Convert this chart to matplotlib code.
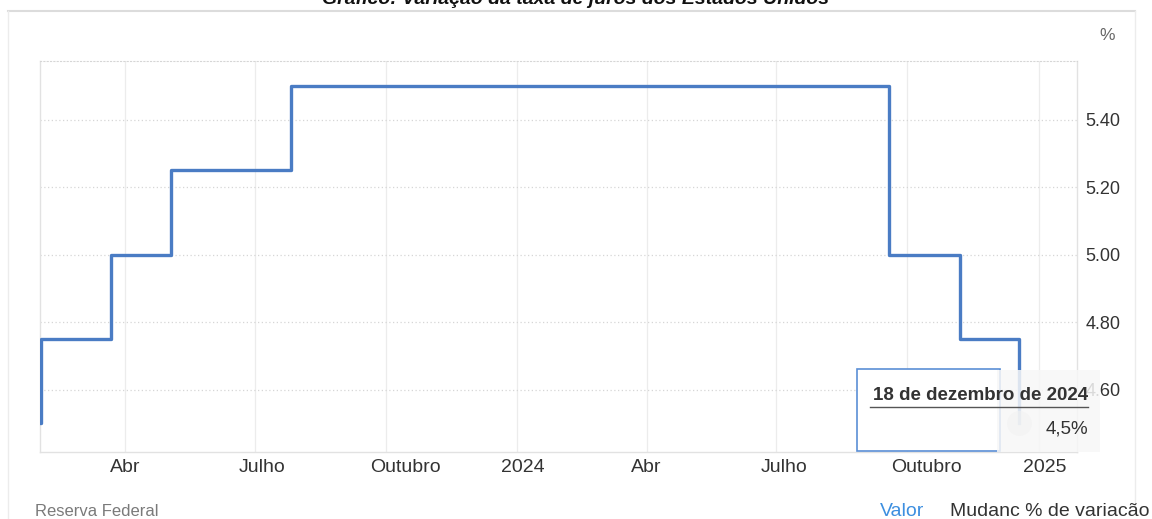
import matplotlib
matplotlib.use("Agg")
import matplotlib.pyplot as plt
import matplotlib.patches as mpatches
import matplotlib.transforms as mtransforms
import pandas as pd

# Fed funds target (upper bound), step changes
dates = pd.to_datetime(['2022-12-14', '2023-02-01', '2023-03-22', '2023-05-03',
                        '2023-07-26', '2024-09-18', '2024-11-07', '2024-12-18'])
rates = [4.50, 4.75, 5.00, 5.25, 5.50, 5.00, 4.75, 4.50]

tick_dates = pd.to_datetime(['2023-04-01', '2023-07-01', '2023-10-01', '2024-01-01',
                             '2024-04-01', '2024-07-01', '2024-10-01', '2025-01-01'])
tick_labels = ['Abr', 'Julho', 'Outubro', '2024', 'Abr', 'Julho', 'Outubro', '2025']
y_ticks = [4.60, 4.80, 5.00, 5.20, 5.40]

title = 'Gráfico: Variação da taxa de juros dos Estados Unidos'
tip_date = '18 de dezembro de 2024'
tip_value = '4,5%'

plt.rcParams['font.family'] = ['Liberation Sans', 'DejaVu Sans']

W, H = 1152, 519
fig = plt.figure(figsize=(W / 100, H / 100), dpi=100)


def fx(x):
  return x / W


def fy(y):
  return 1 - y / H


ax = fig.add_axes([fx(40), fy(452), fx(1077) - fx(40), fy(61) - fy(452)])

ax.step(dates, rates, where='post', color='#4a7cc4', lw=2.4, zorder=3)
# hover marker on last point
ax.plot(dates[-1:], rates[-1:], 'o', ms=18, color='#d8d8d8', alpha=0.6,
        markeredgewidth=0, zorder=4)

ax.set_xlim(pd.Timestamp('2023-01-31'), pd.Timestamp('2025-01-28'))
ax.set_ylim(4.415, 5.574)

ax.set_xticks(tick_dates)
ax.set_xticklabels(tick_labels)
ax.set_yticks(y_ticks)
ax.set_yticklabels([f'{v:.2f}' for v in y_ticks])
ax.yaxis.tick_right()
ax.tick_params(axis='both', length=0, labelcolor='#333333')
ax.tick_params(axis='y', pad=6, labelsize=13)
ax.tick_params(axis='x', pad=5, labelsize=14)

# x labels sit left-aligned just before their gridline
offset = mtransforms.ScaledTranslation(-16 / 100, 0, fig.dpi_scale_trans)
for lbl in ax.get_xticklabels():
  lbl.set_horizontalalignment('left')
  lbl.set_transform(lbl.get_transform() + offset)

ax.xaxis.grid(True, color='#ececec', lw=0.9, linestyle='-')
ax.yaxis.grid(True, color='#d6d6d6', lw=0.9, linestyle=(0, (1, 2)))
ax.set_axisbelow(True)
for side in ['left', 'bottom', 'right']:
  ax.spines[side].set_color('#e2e2e2')
  ax.spines[side].set_linewidth(1)
ax.spines['top'].set_color('#d6d6d6')
ax.spines['top'].set_linestyle((0, (1, 2)))

# outer frame
fig.add_artist(plt.Line2D([fx(8), fx(1135)], [fy(11), fy(11)], color='#dcdcdc', lw=1.5))
fig.add_artist(plt.Line2D([fx(8), fx(8)], [fy(11), fy(519)], color='#ececec', lw=1))
fig.add_artist(plt.Line2D([fx(1135), fx(1135)], [fy(11), fy(505)], color='#ececec', lw=1))

fig.text(0.5, fy(4), title, ha='center', va='baseline', fontsize=14,
         fontweight='bold', fontstyle='italic', color='#111111')
fig.text(fx(1107), fy(35), '%', ha='center', va='center', fontsize=12.5, color='#666666')

fig.text(fx(35), fy(512), 'Reserva Federal', ha='left', va='center',
         fontsize=12, color='#7a7a7a')
fig.text(fx(880), fy(511), 'Valor', ha='left', va='center', fontsize=14, color='#3d8fe0')
fig.text(fx(950), fy(511), 'Mudanc % de variacão', ha='left', va='center',
         fontsize=14, color='#333333')

# tooltip
fig.add_artist(mpatches.Rectangle((fx(857), fy(451)), fx(1000) - fx(857), fy(369) - fy(451),
                                  facecolor='white', edgecolor='#5b8fd6', lw=1.2, zorder=5))
fig.add_artist(mpatches.Rectangle((fx(997), fy(452)), fx(1100) - fx(997), fy(370) - fy(452),
                                  facecolor='#f7f7f7', edgecolor='none', alpha=0.85, zorder=6))
fig.add_artist(plt.Line2D([fx(870), fx(1088)], [fy(407), fy(407)], color='#555555', lw=1,
                          zorder=7))
fig.text(fx(1088), fy(395), tip_date, ha='right', va='center', fontsize=13.5,
         fontweight='bold', color='#333333', zorder=8)
fig.text(fx(1088), fy(429), tip_value, ha='right', va='center', fontsize=13.5,
         color='#333333', zorder=8)

plt.savefig('out.png', dpi=100)
